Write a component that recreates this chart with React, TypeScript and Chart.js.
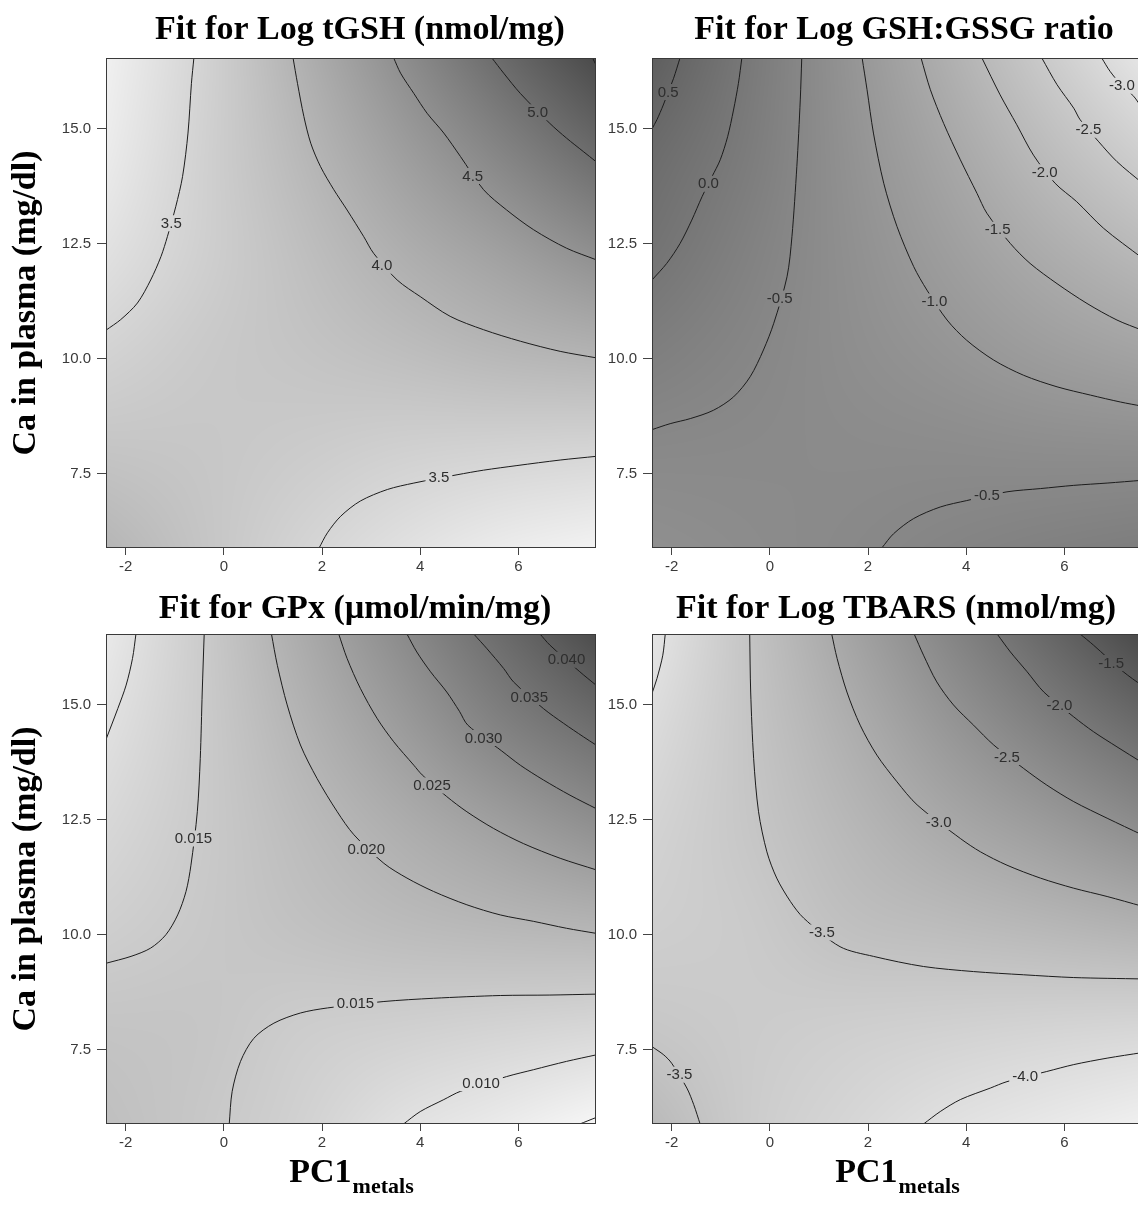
import React, { useEffect, useRef } from "react";
import { Chart, registerables } from "chart.js";

Chart.register(...registerables);

type XY = [number, number];
type Contour = { level: string; pts: XY[] };
type Label = { text: string; x: number; y: number };

// ---------- axes ----------
const X_MIN = -2.4;
const X_MAX = 7.58;
const Y_MIN = 5.89;
const Y_MAX = 16.53;
const xTickValues = [-2, 0, 2, 4, 6];
const yTickValues = [7.5, 10.0, 12.5, 15.0];
const xTitleMain = "PC1";
const xTitleSub = "metals";
const yTitle = "Ca in plasma (mg/dl)";

// fitted-surface values read on a regular grid (for the shading)
const shadeGridX = [-2.4, -0.404, 1.592, 3.588, 5.584, 7.58];
const shadeGridY = [16.53, 14.4, 12.28, 10.15, 8.02, 5.89];

// ---------- panel 1 : Log tGSH ----------
const tgshGrid = [
  [3.12, 3.55, 4.04, 4.53, 5.03, 5.51],
  [3.2, 3.58, 3.93, 4.29, 4.65, 5.03],
  [3.35, 3.6, 3.83, 4.06, 4.27, 4.52],
  [3.55, 3.68, 3.76, 3.85, 3.95, 4.02],
  [3.75, 3.72, 3.66, 3.59, 3.55, 3.52],
  [3.97, 3.75, 3.54, 3.36, 3.2, 3.1],
];
const tgsh35a: XY[] = [[-0.61, 16.53], [-0.66, 15.98], [-0.73, 14.9], [-0.84, 13.96], [-0.98, 13.3], [-1.15, 12.65], [-1.28, 12.22], [-1.49, 11.71], [-1.76, 11.21], [-2.1, 10.85], [-2.4, 10.62]];
const tgsh40: XY[] = [[1.41, 16.53], [1.5, 15.98], [1.63, 15.26], [1.77, 14.68], [1.97, 14.17], [2.24, 13.67], [2.51, 13.23], [2.85, 12.65], [3.05, 12.29], [3.53, 11.71], [4.0, 11.35], [4.61, 10.92], [5.29, 10.63], [6.04, 10.38], [6.85, 10.16], [7.58, 10.02]];
const tgsh45: XY[] = [[3.46, 16.53], [3.6, 16.2], [3.87, 15.76], [4.14, 15.33], [4.48, 14.9], [4.82, 14.39], [5.29, 13.67], [5.76, 13.23], [6.31, 12.8], [6.98, 12.4], [7.58, 12.15]];
const tgsh50: XY[] = [[5.46, 16.53], [5.7, 16.2], [6.04, 15.76], [6.64, 15.11], [6.98, 14.79], [7.32, 14.5], [7.58, 14.28]];
const tgsh55: XY[] = [[7.51, 16.53], [7.58, 16.38]];
const tgsh35b: XY[] = [[1.94, 5.89], [2.11, 6.22], [2.38, 6.58], [2.78, 6.91], [3.33, 7.16], [3.87, 7.3], [4.75, 7.48], [5.29, 7.58], [5.97, 7.68], [6.85, 7.8], [7.58, 7.88]];
const tgshContours: Contour[] = [
  { level: "3.5", pts: tgsh35a }, { level: "4.0", pts: tgsh40 }, { level: "4.5", pts: tgsh45 },
  { level: "5.0", pts: tgsh50 }, { level: "5.5", pts: tgsh55 }, { level: "3.5", pts: tgsh35b },
];
const tgshLabels: Label[] = [
  { text: "3.5", x: -1.07, y: 12.94 }, { text: "4.0", x: 3.22, y: 12.02 }, { text: "4.5", x: 5.07, y: 13.97 },
  { text: "5.0", x: 6.39, y: 15.35 }, { text: "3.5", x: 4.38, y: 7.42 },
];

// ---------- panel 2 : Log GSH:GSSG ----------
const gssgGrid = [
  [0.73, -0.07, -0.88, -1.7, -2.52, -3.35],
  [0.33, -0.18, -0.81, -1.42, -2.06, -2.66],
  [0.09, -0.33, -0.75, -1.17, -1.6, -2.0],
  [-0.24, -0.47, -0.7, -0.92, -1.16, -1.36],
  [-0.55, -0.58, -0.62, -0.64, -0.68, -0.7],
  [-0.75, -0.65, -0.55, -0.42, -0.3, -0.2],
];
const gssg05: XY[] = [[-1.83, 16.53], [-1.96, 16.09], [-2.07, 15.79], [-2.17, 15.51], [-2.3, 15.19], [-2.4, 14.99]];
const gssg00: XY[] = [[-0.57, 16.53], [-0.64, 15.98], [-0.74, 15.4], [-0.86, 14.82], [-1.01, 14.32], [-1.18, 13.95], [-1.38, 13.52], [-1.59, 13.01], [-1.83, 12.5], [-2.1, 12.07], [-2.4, 11.71]];
const gssgM05a: XY[] = [[0.65, 16.53], [0.62, 15.62], [0.55, 14.17], [0.45, 12.65], [0.35, 11.78], [0.08, 10.77], [-0.13, 10.19], [-0.4, 9.61], [-0.74, 9.17], [-1.15, 8.88], [-1.62, 8.7], [-2.03, 8.59], [-2.4, 8.46]];
const gssgM10: XY[] = [[1.88, 16.53], [1.98, 15.84], [2.11, 14.9], [2.32, 13.81], [2.59, 12.87], [2.93, 12.0], [3.2, 11.49], [3.61, 10.84], [4.01, 10.4], [4.56, 9.97], [5.17, 9.64], [5.85, 9.39], [6.53, 9.21], [7.14, 9.06], [7.58, 8.97]];
const gssgM15: XY[] = [[3.08, 16.53], [3.27, 15.84], [3.54, 15.11], [3.88, 14.32], [4.22, 13.59], [4.42, 13.16], [4.9, 12.5], [5.3, 12.07], [5.85, 11.63], [6.46, 11.2], [7.07, 10.84], [7.58, 10.62]];
const gssgM20: XY[] = [[4.32, 16.53], [4.69, 15.73], [5.03, 15.08], [5.37, 14.42], [5.81, 13.81], [6.25, 13.41], [6.8, 12.83], [7.58, 12.19]];
const gssgM25: XY[] = [[5.54, 16.53], [5.85, 15.95], [6.19, 15.44], [6.32, 15.19], [6.7, 14.71], [7.07, 14.28], [7.58, 13.82]];
const gssgM30: XY[] = [[6.76, 16.53], [6.93, 16.24], [7.17, 15.93], [7.41, 15.7], [7.58, 15.44]];
const gssgM05b: XY[] = [[2.28, 5.89], [2.52, 6.2], [2.93, 6.53], [3.47, 6.78], [4.01, 6.92], [4.83, 7.11], [5.51, 7.18], [6.19, 7.25], [6.87, 7.3], [7.58, 7.36]];
const gssgContours: Contour[] = [
  { level: "0.5", pts: gssg05 }, { level: "0.0", pts: gssg00 }, { level: "-0.5", pts: gssgM05a },
  { level: "-1.0", pts: gssgM10 }, { level: "-1.5", pts: gssgM15 }, { level: "-2.0", pts: gssgM20 },
  { level: "-2.5", pts: gssgM25 }, { level: "-3.0", pts: gssgM30 }, { level: "-0.5", pts: gssgM05b },
];
const gssgLabels: Label[] = [
  { text: "0.5", x: -2.07, y: 15.79 }, { text: "0.0", x: -1.25, y: 13.8 }, { text: "-0.5", x: 0.2, y: 11.31 },
  { text: "-1.0", x: 3.35, y: 11.24 }, { text: "-1.5", x: 4.64, y: 12.8 }, { text: "-2.0", x: 5.6, y: 14.05 },
  { text: "-2.5", x: 6.49, y: 14.97 }, { text: "-3.0", x: 7.17, y: 15.93 }, { text: "-0.5", x: 4.42, y: 7.03 },
];

// ---------- panel 3 : GPx ----------
const gpxGrid = [
  [0.008, 0.0151, 0.0223, 0.0295, 0.0368, 0.0442],
  [0.0101, 0.0151, 0.0203, 0.0256, 0.0314, 0.0361],
  [0.0122, 0.0153, 0.0185, 0.0216, 0.0248, 0.0283],
  [0.0142, 0.0157, 0.0172, 0.0185, 0.0194, 0.0201],
  [0.0165, 0.0162, 0.0147, 0.014, 0.0132, 0.0124],
  [0.0177, 0.0158, 0.0135, 0.0101, 0.0078, 0.0051],
];
const gpx010a: XY[] = [[-1.79, 16.53], [-1.86, 16.0], [-1.99, 15.42], [-2.16, 14.91], [-2.4, 14.24]];
const gpx015a: XY[] = [[-0.4, 16.53], [-0.44, 15.27], [-0.48, 13.83], [-0.54, 12.67], [-0.67, 11.51], [-0.77, 10.94], [-0.94, 10.43], [-1.18, 10.0], [-1.49, 9.71], [-1.89, 9.53], [-2.4, 9.38]];
const gpx020: XY[] = [[0.97, 16.53], [1.09, 15.85], [1.29, 14.99], [1.56, 14.12], [1.9, 13.39], [2.31, 12.67], [2.65, 12.17], [3.26, 11.55], [3.73, 11.23], [4.27, 10.94], [4.95, 10.65], [5.63, 10.43], [6.31, 10.29], [6.98, 10.14], [7.58, 10.03]];
const gpx025: XY[] = [[2.34, 16.53], [2.51, 16.0], [2.78, 15.35], [3.12, 14.7], [3.46, 14.19], [3.87, 13.68], [4.04, 13.47], [4.54, 13.0], [4.95, 12.67], [5.49, 12.31], [6.1, 11.98], [6.85, 11.66], [7.58, 11.41]];
const gpx030: XY[] = [[3.73, 16.53], [3.93, 16.14], [4.21, 15.71], [4.54, 15.27], [4.8, 14.85], [4.97, 14.55], [5.66, 13.99], [6.04, 13.68], [6.51, 13.36], [7.05, 13.03], [7.58, 12.74]];
const gpx035: XY[] = [[5.09, 16.53], [5.36, 16.21], [5.7, 15.78], [5.9, 15.49], [6.51, 14.91], [6.92, 14.59], [7.32, 14.3], [7.58, 14.12]];
const gpx040: XY[] = [[6.44, 16.53], [6.64, 16.29], [7.25, 15.71], [7.58, 15.42]];
const gpx015b: XY[] = [[0.11, 5.89], [0.17, 6.6], [0.34, 7.25], [0.61, 7.75], [1.02, 8.08], [1.56, 8.3], [2.11, 8.41], [3.26, 8.55], [4.27, 8.62], [5.63, 8.68], [6.64, 8.69], [7.58, 8.71]];
const gpx010b: XY[] = [[3.66, 5.89], [4.0, 6.16], [4.48, 6.42], [4.82, 6.6], [5.76, 6.92], [6.31, 7.07], [6.98, 7.25], [7.58, 7.39]];
const gpx005: XY[] = [[7.25, 5.89], [7.58, 6.03]];
const gpxContours: Contour[] = [
  { level: "0.010", pts: gpx010a }, { level: "0.015", pts: gpx015a }, { level: "0.020", pts: gpx020 },
  { level: "0.025", pts: gpx025 }, { level: "0.030", pts: gpx030 }, { level: "0.035", pts: gpx035 },
  { level: "0.040", pts: gpx040 }, { level: "0.015", pts: gpx015b }, { level: "0.010", pts: gpx010b },
  { level: "0.005", pts: gpx005 },
];
const gpxLabels: Label[] = [
  { text: "0.015", x: -0.62, y: 12.09 }, { text: "0.020", x: 2.9, y: 11.86 }, { text: "0.025", x: 4.24, y: 13.24 },
  { text: "0.030", x: 5.29, y: 14.27 }, { text: "0.035", x: 6.22, y: 15.16 }, { text: "0.040", x: 6.98, y: 15.97 },
  { text: "0.015", x: 2.68, y: 8.5 }, { text: "0.010", x: 5.24, y: 6.78 },
];

// ---------- panel 4 : Log TBARS ----------
const tbarsGrid = [
  [-4.15, -3.5, -2.9, -2.31, -1.72, -1.12],
  [-3.95, -3.52, -3.1, -2.65, -2.22, -1.8],
  [-3.8, -3.55, -3.27, -2.99, -2.74, -2.45],
  [-3.7, -3.62, -3.43, -3.35, -3.26, -3.15],
  [-3.56, -3.64, -3.7, -3.75, -3.8, -3.84],
  [-3.3, -3.65, -3.85, -4.05, -4.2, -4.35],
];
const tb40a: XY[] = [[-2.13, 16.53], [-2.18, 16.07], [-2.3, 15.56], [-2.4, 15.24]];
const tb35a: XY[] = [[-0.41, 16.53], [-0.39, 15.27], [-0.33, 13.83], [-0.23, 12.67], [-0.06, 11.8], [0.14, 11.23], [0.42, 10.72], [0.69, 10.36], [1.43, 9.74], [2.11, 9.53], [3.13, 9.31], [4.15, 9.2], [5.17, 9.13], [6.19, 9.07], [7.58, 9.04]];
const tb30: XY[] = [[1.26, 16.53], [1.37, 16.0], [1.57, 15.27], [1.84, 14.55], [2.18, 13.9], [2.59, 13.32], [3.0, 12.82], [3.88, 12.09], [4.29, 11.8], [4.83, 11.51], [5.51, 11.23], [6.19, 11.01], [6.87, 10.83], [7.58, 10.62]];
const tb25: XY[] = [[2.94, 16.53], [3.13, 16.07], [3.4, 15.49], [3.74, 14.99], [4.15, 14.55], [4.56, 14.12], [5.17, 13.61], [5.64, 13.25], [6.19, 12.89], [6.87, 12.53], [7.58, 12.17]];
const tb20: XY[] = [[4.63, 16.53], [4.9, 16.14], [5.24, 15.71], [5.58, 15.27], [6.19, 14.73], [6.59, 14.41], [7.07, 14.08], [7.58, 13.74]];
const tb15: XY[] = [[6.32, 16.53], [6.59, 16.29], [7.2, 15.71], [7.58, 15.41]];
const tb35b: XY[] = [[-2.4, 7.57], [-2.16, 7.39], [-2.0, 7.21], [-1.69, 6.67], [-1.55, 6.31], [-1.42, 5.89]];
const tb40b: XY[] = [[3.13, 5.89], [3.47, 6.16], [3.88, 6.42], [4.49, 6.67], [4.83, 6.81], [5.64, 7.03], [6.19, 7.18], [6.87, 7.32], [7.58, 7.44]];
const tbarsContours: Contour[] = [
  { level: "-4.0", pts: tb40a }, { level: "-3.5", pts: tb35a }, { level: "-3.0", pts: tb30 },
  { level: "-2.5", pts: tb25 }, { level: "-2.0", pts: tb20 }, { level: "-1.5", pts: tb15 },
  { level: "-3.5", pts: tb35b }, { level: "-4.0", pts: tb40b },
];
const tbarsLabels: Label[] = [
  { text: "-3.5", x: 1.06, y: 10.05 }, { text: "-3.0", x: 3.44, y: 12.45 }, { text: "-2.5", x: 4.83, y: 13.86 },
  { text: "-2.0", x: 5.9, y: 14.99 }, { text: "-1.5", x: 6.95, y: 15.9 }, { text: "-3.5", x: -1.84, y: 6.96 },
  { text: "-4.0", x: 5.2, y: 6.92 },
];

// ---------- layout / style ----------
type Panel = {
  title: string;
  grid: number[][];
  shadeRange: [number, number]; // value drawn light, value drawn dark
  contours: Contour[];
  labels: Label[];
  left: number; top: number; width: number; height: number;
  padTop: number; padRight: number; padBottom: number;
  yWidth: number; showYTitle: boolean; showXTitle: boolean;
  titleX: number; titleY: number; xTitleY: number;
};

const panels: Panel[] = [
  { title: "Fit for Log tGSH (nmol/mg)", grid: tgshGrid, shadeRange: [3.1, 5.5], contours: tgshContours, labels: tgshLabels,
    left: 0, top: 0, width: 600, height: 578, padTop: 58, padRight: 4, padBottom: 0, yWidth: 106,
    showYTitle: true, showXTitle: false, titleX: 360, titleY: 39, xTitleY: 0 },
  { title: "Fit for Log GSH:GSSG ratio", grid: gssgGrid, shadeRange: [-3.74, 1.32], contours: gssgContours, labels: gssgLabels,
    left: 600, top: 0, width: 545, height: 578, padTop: 58, padRight: 3, padBottom: 0, yWidth: 52,
    showYTitle: false, showXTitle: false, titleX: 304, titleY: 39, xTitleY: 0 },
  { title: "Fit for GPx (\u00b5mol/min/mg)", grid: gpxGrid, shadeRange: [0.006, 0.0445], contours: gpxContours, labels: gpxLabels,
    left: 0, top: 578, width: 600, height: 627, padTop: 56, padRight: 4, padBottom: 51, yWidth: 106,
    showYTitle: true, showXTitle: true, titleX: 355, titleY: 40, xTitleY: 604 },
  { title: "Fit for Log TBARS (nmol/mg)", grid: tbarsGrid, shadeRange: [-4.4, -1.15], contours: tbarsContours, labels: tbarsLabels,
    left: 600, top: 578, width: 545, height: 627, padTop: 56, padRight: 3, padBottom: 51, yWidth: 52,
    showYTitle: false, showXTitle: true, titleX: 296, titleY: 40, xTitleY: 604 },
];

const SERIF = '"Liberation Serif", "Times New Roman", serif';
const SANS = '"Liberation Sans", Arial, sans-serif';
const GRAY_LIGHT = 242;
const GRAY_DARK = 75;

function cubic(p0: number, p1: number, p2: number, p3: number, t: number) {
  return p1 + 0.5 * t * (p2 - p0 + t * (2 * p0 - 5 * p1 + 4 * p2 - p3 + t * (3 * (p1 - p2) + p3 - p0)));
}
function at(arr: number[], k: number) {
  const n = arr.length;
  if (k < 0) return 2 * arr[0] - arr[1];
  if (k >= n) return 2 * arr[n - 1] - arr[n - 2];
  return arr[k];
}
function interp1(arr: number[], f: number) {
  const n = arr.length;
  const i = Math.min(Math.max(Math.floor(f), 0), n - 2);
  const t = f - i;
  return cubic(at(arr, i - 1), arr[i], arr[i + 1], at(arr, i + 2), t);
}

function makePlugin(p: Panel) {
  let off: HTMLCanvasElement | null = null;
  let ox = 0, oy = 0;
  return {
    id: "contourPanel",
    beforeDatasetsDraw(chart: any) {
      const { left, top, right, bottom } = chart.chartArea;
      const xs = chart.scales.x, ys = chart.scales.y;
      ox = Math.round(left); oy = Math.round(top);
      const w = Math.round(right) - ox, h = Math.round(bottom) - oy;
      off = document.createElement("canvas");
      off.width = w; off.height = h;
      const octx = off.getContext("2d")!;
      const img = octx.createImageData(w, h);
      const nx = shadeGridX.length, ny = shadeGridY.length;
      const cols: number[][] = [];
      for (let c = 0; c < nx; c++) cols.push(p.grid.map((row) => row[c]));
      const [vLow, vHigh] = p.shadeRange;
      const colVals = new Array(nx).fill(0);
      for (let j = 0; j < h; j++) {
        const vy = ys.getValueForPixel(oy + j + 0.5);
        const fy = ((shadeGridY[0] - vy) / (shadeGridY[0] - shadeGridY[ny - 1])) * (ny - 1);
        for (let c = 0; c < nx; c++) colVals[c] = interp1(cols[c], fy);
        for (let i = 0; i < w; i++) {
          const vx = xs.getValueForPixel(ox + i + 0.5);
          const fx = ((vx - shadeGridX[0]) / (shadeGridX[nx - 1] - shadeGridX[0])) * (nx - 1);
          const v = interp1(colVals, fx);
          let g = GRAY_LIGHT - ((v - vLow) / (vHigh - vLow)) * (GRAY_LIGHT - GRAY_DARK);
          g = Math.max(0, Math.min(255, Math.round(g)));
          const k = (j * w + i) * 4;
          img.data[k] = g; img.data[k + 1] = g; img.data[k + 2] = g; img.data[k + 3] = 255;
        }
      }
      octx.putImageData(img, 0, 0);
      chart.ctx.drawImage(off, ox, oy);
    },
    afterDatasetsDraw(chart: any) {
      if (!off) return;
      const ctx = chart.ctx;
      const xs = chart.scales.x, ys = chart.scales.y;
      const { left, top, right, bottom } = chart.chartArea;
      ctx.save();
      ctx.beginPath();
      ctx.rect(left, top, right - left, bottom - top);
      ctx.clip();
      ctx.font = `15px ${SANS}`;
      for (const lb of p.labels) {
        const px = xs.getPixelForValue(lb.x);
        const py = ys.getPixelForValue(lb.y);
        const tw = ctx.measureText(lb.text).width;
        ctx.save();
        ctx.beginPath();
        ctx.rect(px - tw / 2 - 3, py - 8, tw + 6, 16);
        ctx.clip();
        ctx.drawImage(off, ox, oy);
        ctx.restore();
        ctx.fillStyle = "#2e2e2e";
        ctx.textAlign = "center";
        ctx.textBaseline = "middle";
        ctx.fillText(lb.text, px, py + 0.5);
      }
      ctx.restore();
    },
    afterDraw(chart: any) {
      const ctx = chart.ctx;
      const { left, top, right, bottom } = chart.chartArea;
      ctx.save();
      ctx.strokeStyle = "#3a3a3a";
      ctx.lineWidth = 1;
      ctx.strokeRect(Math.round(left) + 0.5, Math.round(top) + 0.5, Math.round(right - left) - 1, Math.round(bottom - top) - 1);
      ctx.fillStyle = "#000";
      ctx.textBaseline = "alphabetic";
      ctx.textAlign = "center";
      ctx.font = `bold 34px ${SERIF}`;
      ctx.fillText(p.title, p.titleX, p.titleY);
      if (p.showXTitle) {
        ctx.font = `bold 34px ${SERIF}`;
        const w1 = ctx.measureText(xTitleMain).width;
        ctx.font = `bold 22px ${SERIF}`;
        const w2 = ctx.measureText(xTitleSub).width;
        const start = (left + right) / 2 - (w1 + w2) / 2;
        ctx.textAlign = "left";
        ctx.font = `bold 34px ${SERIF}`;
        ctx.fillText(xTitleMain, start, p.xTitleY);
        ctx.font = `bold 22px ${SERIF}`;
        ctx.fillText(xTitleSub, start + w1 + 1, p.xTitleY + 11);
      }
      ctx.restore();
    },
  };
}

function PanelChart({ p }: { p: Panel }) {
  const ref = useRef<HTMLCanvasElement | null>(null);
  useEffect(() => {
    if (!ref.current) return;
    const chart = new Chart(ref.current, {
      type: "scatter",
      data: {
        datasets: p.contours.map((c) => ({
          label: c.level,
          data: c.pts.map(([x, y]) => ({ x, y })),
          showLine: true,
          borderColor: "#1c1c1c",
          borderWidth: 1,
          pointRadius: 0,
          pointHoverRadius: 0,
          tension: 0.3,
          fill: false,
          clip: 0,
        })),
      },
      options: {
        responsive: false,
        animation: false,
        events: [],
        layout: { padding: { left: 0, top: p.padTop, right: p.padRight, bottom: p.padBottom } },
        plugins: { legend: { display: false }, tooltip: { enabled: false }, title: { display: false } },
        scales: {
          x: {
            type: "linear",
            min: X_MIN,
            max: X_MAX,
            afterBuildTicks: (s: any) => { s.ticks = xTickValues.map((value) => ({ value })); },
            afterFit: (s: any) => { s.height = 30; },
            ticks: {
              autoSkip: false, maxRotation: 0, minRotation: 0, padding: 3, color: "#3a3a3a",
              font: { family: SANS, size: 15 },
              callback: (v: any) => String(v),
            },
            grid: { drawOnChartArea: false, drawTicks: true, tickLength: 7, color: "#444" },
            border: { display: false },
          },
          y: {
            type: "linear",
            min: Y_MIN,
            max: Y_MAX,
            afterBuildTicks: (s: any) => { s.ticks = yTickValues.map((value) => ({ value })); },
            afterFit: (s: any) => { s.width = p.yWidth; },
            ticks: {
              autoSkip: false, padding: 6, color: "#3a3a3a",
              font: { family: SANS, size: 15 },
              callback: (v: any) => Number(v).toFixed(1),
            },
            grid: { drawOnChartArea: false, drawTicks: true, tickLength: 9, color: "#444" },
            border: { display: false },
            title: {
              display: p.showYTitle,
              text: yTitle,
              color: "#000",
              font: { family: SERIF, size: 34, weight: "bold" },
              padding: { top: 6, bottom: 0 },
            },
          },
        },
      },
      plugins: [makePlugin(p)],
    } as any);
    return () => chart.destroy();
  }, [p]);
  return (
    <canvas
      ref={ref}
      width={p.width}
      height={p.height}
      style={{ position: "absolute", left: p.left, top: p.top, width: p.width, height: p.height }}
    />
  );
}

export default function App() {
  return (
    <div style={{ position: "absolute", left: 0, top: 0, width: 1138, height: 1205, overflow: "hidden", background: "#fff" }}>
      {panels.map((p, i) => (
        <PanelChart key={i} p={p} />
      ))}
    </div>
  );
}
